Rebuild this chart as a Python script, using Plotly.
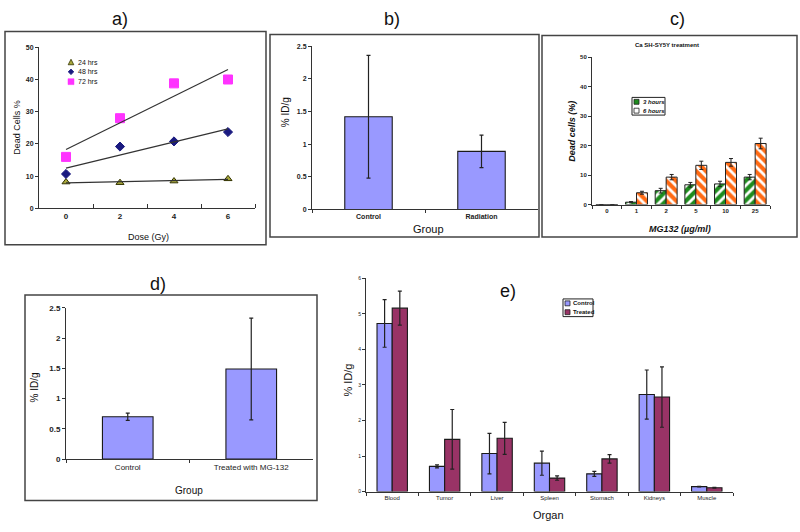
import numpy as np
import plotly.graph_objects as go

W, H = 800, 532
FONT = "Liberation Sans, Arial, sans-serif"


def px(x):
    return x / W


def py(y):
    return 1 - y / H


# ---------------- data ----------------
# a) dead cells vs dose
dose = [0, 2, 4, 6]
dead_24 = [8.2, 8.0, 8.5, 9.2]
dead_48 = [10.7, 19.2, 20.8, 23.7]
dead_72 = [16.0, 28.0, 38.8, 40.0]
a_series = ["24 hrs", "48 hrs", "72 hrs"]

# b) %ID/g by group
b_groups = ["Control", "Radiation"]
b_vals = [1.42, 0.89]
b_err = [0.94, 0.25]

# c) dead cells vs MG132
c_conc = ["0", "1", "2", "5", "10", "25"]
c_3h = [0, 0.8, 4.7, 6.7, 7.0, 9.3]
c_3h_err = [0, 0.2, 0.8, 0.8, 0.9, 0.9]
c_6h = [0, 4.0, 9.3, 13.3, 14.3, 20.7]
c_6h_err = [0, 0.5, 0.9, 1.4, 1.3, 1.8]
c_series = ["3 hours", "6 hours"]

# d) %ID/g control vs treated
d_groups = ["Control", "Treated with MG-132"]
d_vals = [0.70, 1.49]
d_err = [0.06, 0.84]

# e) biodistribution
organs = ["Blood", "Tumor", "Liver", "Spleen", "Stomach", "Kidneys", "Muscle"]
e_control = [4.73, 0.71, 1.07, 0.80, 0.50, 2.73, 0.14]
e_control_err = [0.67, 0.04, 0.57, 0.34, 0.07, 0.69, 0.01]
e_treated = [5.16, 1.47, 1.50, 0.38, 0.92, 2.66, 0.11]
e_treated_err = [0.48, 0.84, 0.45, 0.06, 0.12, 0.85, 0.01]
e_series = ["Control", "Treated"]

# ---------------- figure ----------------
fig = go.Figure()

A_COL = ["#A8A83C", "#1A1A80", "#FF33FF"]
A_EDGE = ["#333300", "#1A1A80", "#FF33FF"]
A_SYM = ["triangle-up", "diamond", "square"]
A_SIZE = [7, 7, 9]
for i, (name, ys) in enumerate(zip(a_series, [dead_24, dead_48, dead_72])):
    fig.add_trace(go.Scatter(x=dose, y=ys, mode="markers", name=name,
                             marker=dict(symbol=A_SYM[i], color=A_COL[i], size=A_SIZE[i],
                                         line=dict(color=A_EDGE[i], width=1)),
                             showlegend=False, xaxis="x", yaxis="y"))
for ys in [dead_24, dead_48, dead_72]:
    fit = np.polyfit(dose, ys, 1)
    xs = [min(dose), max(dose)]
    fig.add_trace(go.Scatter(x=xs, y=np.polyval(fit, xs), mode="lines",
                             line=dict(color="#333333", width=1.2), showlegend=False,
                             hoverinfo="skip", xaxis="x", yaxis="y"))

BAR_LINE = dict(color="#1a1a1a", width=1.1)
ERR = dict(color="#222222", thickness=1.2, width=2)

# b)
fig.add_trace(go.Bar(x=b_groups, y=b_vals, width=0.42,
                     error_y=dict(type="data", array=b_err, **ERR),
                     marker=dict(color="#9999FF", line=BAR_LINE),
                     showlegend=False, xaxis="x2", yaxis="y2"))

# c)
C_COL = ["#1E8C1E", "#FF6A13"]
fig.add_trace(go.Bar(x=c_conc, y=c_3h, name=c_series[0], width=0.37, offset=-0.37,
                     error_y=dict(type="data", array=c_3h_err, color="#222", thickness=1, width=2),
                     marker=dict(color="white", line=dict(color="#222", width=1),
                                 pattern=dict(shape="/", fgcolor=C_COL[0], bgcolor="white",
                                              fgopacity=1, size=7, solidity=0.6)),
                     showlegend=False, xaxis="x3", yaxis="y3"))
fig.add_trace(go.Bar(x=c_conc, y=c_6h, name=c_series[1], width=0.37, offset=0,
                     error_y=dict(type="data", array=c_6h_err, color="#222", thickness=1, width=2),
                     marker=dict(color="white", line=dict(color="#222", width=1),
                                 pattern=dict(shape="\\", fgcolor=C_COL[1], bgcolor="white",
                                              fgopacity=1, size=7, solidity=0.6)),
                     showlegend=False, xaxis="x3", yaxis="y3"))

# d)
fig.add_trace(go.Bar(x=d_groups, y=d_vals, width=0.41,
                     error_y=dict(type="data", array=d_err, **ERR),
                     marker=dict(color="#9999FF", line=BAR_LINE),
                     showlegend=False, xaxis="x4", yaxis="y4"))

# e)
E_COL = ["#9999FF", "#993366"]
fig.add_trace(go.Bar(x=organs, y=e_control, name=e_series[0], width=0.29, offset=-0.29,
                     error_y=dict(type="data", array=e_control_err, **ERR),
                     marker=dict(color=E_COL[0], line=BAR_LINE),
                     showlegend=False, xaxis="x5", yaxis="y5"))
fig.add_trace(go.Bar(x=organs, y=e_treated, name=e_series[1], width=0.29, offset=0,
                     error_y=dict(type="data", array=e_treated_err, **ERR),
                     marker=dict(color=E_COL[1], line=BAR_LINE),
                     showlegend=False, xaxis="x5", yaxis="y5"))


def axis(domain, anchor, size=8, bold=False, **kw):
    d = dict(domain=domain, anchor=anchor, showline=True, linecolor="#333", linewidth=1,
             showgrid=False, zeroline=False, ticks="outside", ticklen=3, tickcolor="#333",
             tickfont=dict(family=FONT, size=size, color="#222",
                           weight="bold" if bold else "normal"),
             fixedrange=True)
    d.update(kw)
    return d


layout = dict(
    width=W, height=H, margin=dict(l=0, r=0, t=0, b=0),
    paper_bgcolor="white", plot_bgcolor="white", showlegend=False,
    barmode="group", font=dict(family=FONT, color="#222"),
    # a
    xaxis=axis([px(39), px(255)], "y", size=8, bold=True, range=[-1, 7], tickvals=[0, 2, 4, 6],
               ticks="", minor=dict(tickvals=[1, 3, 5, 7], ticks="inside", ticklen=4, tickcolor="#333")),
    yaxis=axis([py(208), py(44)], "x", size=7, bold=True, range=[0, 50],
               tickvals=list(range(0, 51, 10))),
    # b
    xaxis2=axis([px(312), px(538)], "y2", size=7, bold=True, tickson="boundaries"),
    yaxis2=axis([py(209), py(43)], "x2", size=7, bold=True, range=[0, 2.5],
                tickvals=[0, 0.5, 1, 1.5, 2, 2.5], ticktext=["0", "0.5", "1", "1.5", "2", "2.5"]),
    # c
    xaxis3=axis([px(592), px(770)], "y3", size=6, bold=True, tickson="boundaries"),
    yaxis3=axis([py(204), py(54)], "x3", size=6, bold=True, range=[0, 50],
                tickvals=list(range(0, 51, 10))),
    # d
    xaxis4=axis([px(66), px(313)], "y4", size=8, tickson="boundaries"),
    yaxis4=axis([py(463), py(309)], "x4", size=8, bold=True, range=[0, 2.5],
                tickvals=[0, 0.5, 1, 1.5, 2, 2.5], ticktext=["0", "0.5", "1", "1.5", "2", "2.5"]),
    # e
    xaxis5=axis([px(366), px(733)], "y5", size=6, tickson="boundaries"),
    yaxis5=axis([py(496), py(279)], "x5", size=5, range=[0, 6], tickvals=list(range(0, 7))),
)
fig.update_layout(**layout)


def rect(x0, y0, x1, y1, line_color="#444", lw=1.5, fill="rgba(0,0,0,0)"):
    fig.add_shape(type="rect", xref="paper", yref="paper", x0=px(x0), x1=px(x1), y0=py(y1), y1=py(y0),
                  line=dict(color=line_color, width=lw), fillcolor=fill)


# frames
for box in [(5, 28, 266, 245), (270, 31, 539, 237), (542, 32, 797, 237), (25, 296, 317, 505)]:
    rect(*box)


def ann(text, x, y, size, angle=0, bold=False, italic=False, anchor="center"):
    t = text
    if bold:
        t = "<b>" + t + "</b>"
    if italic:
        t = "<i>" + t + "</i>"
    fig.add_annotation(text=t, x=px(x), y=py(y), xref="paper", yref="paper", showarrow=False,
                       textangle=angle, xanchor=anchor, yanchor="middle",
                       font=dict(family=FONT, size=size, color="#111"))


# ---- legends (drawn as keys next to their series names) ----
# a)
a_key_y = [59, 69, 79]
cx = 71
r = 2.8
fig.add_shape(type="path", xref="paper", yref="paper",
              path=f"M {px(cx - r)},{py(a_key_y[0] + r)} L {px(cx + r)},{py(a_key_y[0] + r)} "
                   f"L {px(cx)},{py(a_key_y[0] - r)} Z",
              fillcolor=A_COL[0], line=dict(color=A_EDGE[0], width=0.8))
fig.add_shape(type="path", xref="paper", yref="paper",
              path=f"M {px(cx)},{py(a_key_y[1] - r)} L {px(cx + r)},{py(a_key_y[1])} "
                   f"L {px(cx)},{py(a_key_y[1] + r)} L {px(cx - r)},{py(a_key_y[1])} Z",
              fillcolor=A_COL[1], line=dict(color=A_EDGE[1], width=0.8))
rect(cx - 3, a_key_y[2] - 3, cx + 3, a_key_y[2] + 3, line_color=A_EDGE[2], lw=0.5, fill=A_COL[2])
for name, yy in zip(a_series, a_key_y):
    ann(name, 76, yy, 7, anchor="left")

# c)
rect(632, 95, 665, 113, line_color="#222", lw=1, fill="white")
c_key_y = [99.5, 108.5]
rect(634, c_key_y[0] - 2.5, 639, c_key_y[0] + 2.5, line_color="#222", lw=0.8, fill=C_COL[0])
rect(634, c_key_y[1] - 2.5, 639, c_key_y[1] + 2.5, line_color="#222", lw=0.8, fill="white")
for name, yy in zip(c_series, c_key_y):
    ann(name, 641, yy, 6, bold=True, italic=True, anchor="left")

# e)
rect(563, 300, 593, 318, line_color="#222", lw=1, fill="white")
e_key_y = [304.5, 313.5]
for col, yy in zip(E_COL, e_key_y):
    rect(565, yy - 2.5, 570, yy + 2.5, line_color="#222", lw=0.8, fill=col)
for name, yy in zip(e_series, e_key_y):
    ann(name, 571, yy, 6, bold=True, anchor="left")

# panel titles
ann("a)", 120, 15, 18)
ann("b)", 392, 15, 18)
ann("c)", 677, 15, 18)
ann("d)", 158, 285, 18)
ann("e)", 508, 292, 18)

# axis titles
ann("Dead Cells %", 17, 126, 9, angle=-90)
ann("Dose (Gy)", 148, 237, 9)
ann("% ID/g", 285, 110, 10, angle=-90)
ann("Group", 428, 229, 11)
ann("Ca SH-SY5Y treatment", 667, 42, 6, bold=True)
ann("Dead cells (%)", 572, 130, 9, angle=-90, bold=True, italic=True)
ann("MG132 (µg/ml)", 680, 229, 9, bold=True, italic=True)
ann("% ID/g", 34, 390, 10, angle=-90)
ann("Group", 189, 495, 10)
ann("% ID/g", 348, 383, 11, angle=-90)
ann("Organ", 548, 520, 11)

fig.write_html("out.html", config={"displayModeBar": False},
               post_script="document.body.style.margin='0';document.body.style.overflow='hidden';")
